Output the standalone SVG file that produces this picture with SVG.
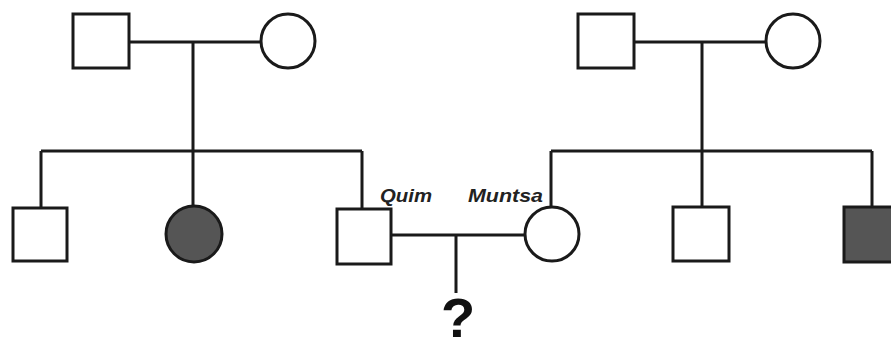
<svg xmlns="http://www.w3.org/2000/svg" width="891" height="349" viewBox="0 0 891 349">
<style>
.n{fill:#fff;stroke:#1a1a1a;stroke-width:3}
.a{fill:#555;stroke:#1a1a1a;stroke-width:3}
.c{fill:none;stroke:#1a1a1a;stroke-width:3}
.lbl{font-family:"Liberation Sans",Arial,sans-serif;font-weight:bold;font-style:italic;font-size:18px;fill:#222}
.q{font-family:"Liberation Sans",Arial,sans-serif;font-weight:bold;font-size:56px;fill:#111}
</style>
<rect width="891" height="349" fill="#fff"/>
<g id="connectors">
<path class="c" d="M129 42H261M193 42V151M41 151H362M41 151V208M193 151V206M362 151V209"/>
<path class="c" d="M634 42H766M702 42V151M551 151H872M551 151V207M702 151V208M872 151V207"/>
<path class="c" d="M391 235H525M456 235V293"/>
</g>
<g id="gf1"><rect class="n" x="73" y="14" width="56" height="54"/></g>
<g id="gm1"><circle class="n" cx="288" cy="41" r="27"/></g>
<g id="gf2"><rect class="n" x="578" y="14" width="56" height="54"/></g>
<g id="gm2"><circle class="n" cx="793" cy="41" r="27"/></g>
<g id="c1"><rect class="n" x="13" y="208" width="54" height="53"/></g>
<g id="c2"><circle class="a" cx="194" cy="234" r="28"/></g>
<g id="quim"><rect class="n" x="337" y="209" width="54" height="55"/>
<text class="lbl" x="380" y="202" textLength="52" lengthAdjust="spacingAndGlyphs">Quim</text></g>
<g id="muntsa"><circle class="n" cx="552" cy="234" r="27"/>
<text class="lbl" x="468" y="202" textLength="75" lengthAdjust="spacingAndGlyphs">Muntsa</text></g>
<g id="c5"><rect class="n" x="673" y="207" width="56" height="54"/></g>
<g id="c6"><rect class="a" x="844" y="207" width="56" height="55"/></g>
<g id="child"><text class="q" x="458" y="337" text-anchor="middle">?</text></g>
</svg>
